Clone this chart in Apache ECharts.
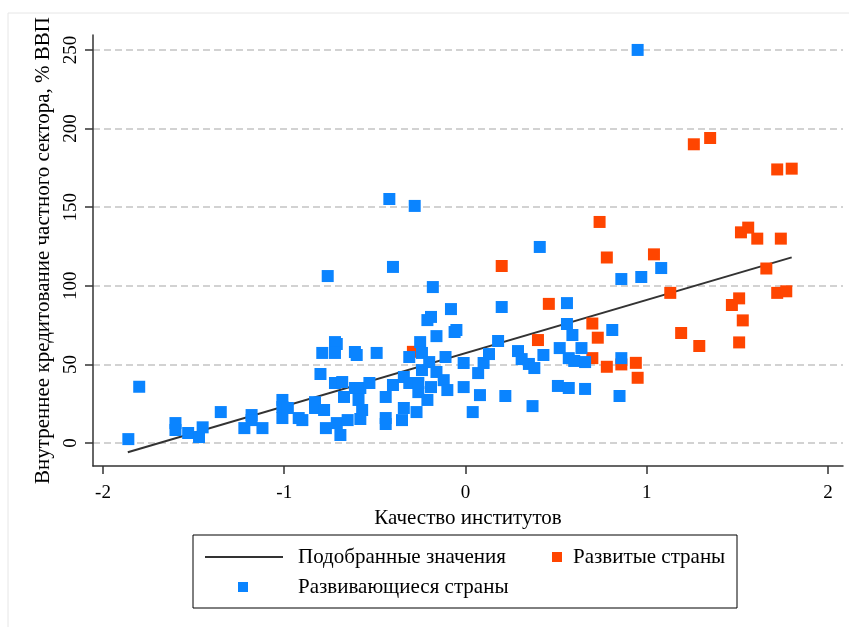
<!DOCTYPE html>
<html>
<head>
<meta charset="utf-8">
<script src="https://cdn.jsdelivr.net/npm/echarts@6/dist/echarts.min.js"></script>
<style>
  html, body { margin: 0; padding: 0; background: #fff; }
  #chart { width: 849px; height: 627px; }
</style>
</head>
<body>
<div id="chart"></div>
<script>
// Institutional quality (x) vs. domestic credit to the private sector, % of GDP (y)
const developed = [
  [-0.29, 58], [0.20, 112.6], [0.40, 65.5], [0.46, 88.5], [0.70, 76], [0.73, 67],
  [0.70, 54], [0.78, 48.5], [0.74, 140.6], [0.78, 118], [0.86, 50], [0.94, 51],
  [0.95, 41.5], [1.04, 120], [1.13, 95.5], [1.19, 70], [1.29, 61.7], [1.26, 190],
  [1.35, 194], [1.47, 87.8], [1.51, 92], [1.53, 78], [1.51, 64], [1.52, 134],
  [1.56, 137], [1.61, 130], [1.66, 111], [1.72, 95.5], [1.77, 96.5], [1.74, 130],
  [1.72, 174], [1.80, 174.5]
];

const developing = [
  [-1.86, 2.5], [-1.80, 35.8], [-1.60, 12.7], [-1.60, 8.3], [-1.53, 6.4], [-1.47, 3.8],
  [-1.45, 10], [-1.35, 19.7], [-1.22, 9.5], [-1.18, 17.8], [-1.18, 14.6], [-1.12, 9.5],
  [-1.01, 27.4], [-1.01, 22.9], [-1.01, 15.9], [-0.98, 22.3],
  [-0.92, 15.9], [-0.90, 14.6], [-0.83, 26], [-0.83, 22.3], [-0.78, 21], [-0.77, 9.5],
  [-0.79, 57.3], [-0.80, 43.9], [-0.72, 64.2], [-0.71, 63], [-0.72, 57.3], [-0.72, 38.2],
  [-0.68, 38.8], [-0.67, 29.3], [-0.71, 12.7], [-0.69, 5.1], [-0.65, 14.6], [-0.58, 15.3],
  [-0.61, 57.9], [-0.60, 56], [-0.61, 35], [-0.58, 35], [-0.59, 27.4], [-0.57, 21],
  [-0.53, 38.2], [-0.49, 57.3], [-0.44, 29.3], [-0.44, 15.9], [-0.44, 12.1],
  [-0.40, 36.9], [-0.34, 22.3], [-0.35, 14.6], [-0.34, 42], [-0.31, 54.7], [-0.31, 38.2],
  [-0.26, 38.2], [-0.27, 19.7], [-0.26, 32.4], [-0.25, 64.2], [-0.24, 57.3], [-0.24, 46.4],
  [-0.21, 78.2], [-0.19, 80.2], [-0.16, 68], [-0.20, 51.5], [-0.16, 45.2], [-0.19, 35.6],
  [-0.21, 27.4], [-0.12, 40], [-0.10, 33.7], [-0.11, 54.7], [-0.08, 85.2], [-0.06, 70.6],
  [-0.05, 71.9], [-0.01, 50.9], [-0.01, 35.6], [0.04, 19.7], [0.07, 44.5], [0.08, 30.5],
  [-0.42, 155.2], [-0.28, 150.8], [-0.76, 106.2], [-0.40, 112], [-0.18, 99.2],
  [0.10, 50.9], [0.13, 56.6], [0.18, 64.9], [0.20, 86.5], [0.22, 29.9], [0.29, 58.5],
  [0.31, 53.4], [0.35, 50.3], [0.38, 47.7], [0.37, 23.5], [0.43, 56], [0.41, 124.7],
  [0.51, 36.3], [0.52, 60.4], [0.56, 89], [0.56, 75.7], [0.57, 35], [0.57, 54],
  [0.59, 68.7], [0.60, 52.2], [0.64, 60.4], [0.66, 51.5], [0.66, 34.4], [0.81, 71.9],
  [0.86, 54], [0.85, 29.9], [0.86, 104.3], [0.97, 105.6], [1.08, 111.3], [0.95, 250]
];

// End points of the fitted regression line
const fitted = [[-1.863, -5.9], [1.80, 118.1]];

const xTicks = [-2, -1, 0, 1, 2];
const yTicks = [0, 50, 100, 150, 200, 250];

const names = {
  fitted: 'Подобранные значения',
  developed: 'Развитые страны',
  developing: 'Развивающиеся страны',
  xAxis: 'Качество институтов',
  yAxis: 'Внутреннее кредитование частного сектора, % ВВП'
};

const FONT = '"Liberation Serif", "DejaVu Serif", serif';
const BLUE = '#0a84ff';
const ORANGE = '#ff4500';
const TITLE_SIZE = 21;
const TICK_SIZE = 19;

const chart = echarts.init(document.getElementById('chart'), null, { renderer: 'canvas' });

chart.setOption({
  animation: false,
  backgroundColor: '#ffffff',
  textStyle: { fontFamily: FONT, color: '#000' },
  grid: { left: 93, right: 6, top: 35, bottom: 161, containLabel: false },
  xAxis: {
    type: 'value',
    min: -2.055,
    max: 2.083,
    name: names.xAxis,
    nameLocation: 'middle',
    nameGap: 33,
    nameTextStyle: { fontFamily: FONT, fontSize: TITLE_SIZE, color: '#000' },
    axisLine: { show: true, onZero: false, lineStyle: { color: '#333', width: 1.5 } },
    axisTick: { show: true, customValues: xTicks, length: 8, lineStyle: { color: '#333', width: 1.5 } },
    axisLabel: { customValues: xTicks, margin: 18, fontFamily: FONT, fontSize: TICK_SIZE, color: '#000' },
    splitLine: { show: false }
  },
  yAxis: {
    type: 'value',
    min: -14.6,
    max: 259.5,
    name: names.yAxis,
    nameLocation: 'middle',
    nameGap: 34,
    nameTextStyle: { fontFamily: FONT, fontSize: TITLE_SIZE, color: '#000' },
    axisLine: { show: true, onZero: false, lineStyle: { color: '#333', width: 1.5 } },
    axisTick: { show: true, customValues: yTicks, length: 8, lineStyle: { color: '#333', width: 1.5 } },
    axisLabel: { customValues: yTicks, rotate: 90, margin: 12, fontFamily: FONT, fontSize: TICK_SIZE, color: '#000' },
    splitLine: { show: true, lineStyle: { color: '#c4c4c4', width: 1.5, type: [7, 4] } }
  },
  series: [
    {
      name: names.fitted,
      type: 'line',
      data: fitted,
      symbol: 'none',
      lineStyle: { color: '#333', width: 2 },
      z: 2
    },
    {
      name: names.developed,
      type: 'scatter',
      data: developed,
      symbol: 'rect',
      symbolSize: 12,
      itemStyle: { color: ORANGE, opacity: 1 },
      z: 3
    },
    {
      name: names.developing,
      type: 'scatter',
      data: developing,
      symbol: 'rect',
      symbolSize: 12,
      itemStyle: { color: BLUE, opacity: 1 },
      z: 4
    }
  ],
  graphic: [
    // light outer frame of the graph region
    { type: 'rect', shape: { x: 8, y: 13, width: 860, height: 640 }, style: { fill: null, stroke: '#e6e6e6', lineWidth: 1 }, z: 0, silent: true },
    // legend box
    { type: 'rect', shape: { x: 193, y: 535, width: 544, height: 73 }, style: { fill: '#fff', stroke: '#000', lineWidth: 1 }, z: 10 },
    { type: 'line', shape: { x1: 205, y1: 557, x2: 283, y2: 557 }, style: { stroke: '#333', lineWidth: 2 }, z: 11 },
    { type: 'text', x: 298, y: 557, style: { text: names.fitted, font: TITLE_SIZE + 'px ' + FONT, fill: '#000', verticalAlign: 'middle', align: 'left' }, z: 11 },
    { type: 'rect', shape: { x: 552, y: 552, width: 10, height: 10 }, style: { fill: ORANGE }, z: 11 },
    { type: 'text', x: 573, y: 557, style: { text: names.developed, font: TITLE_SIZE + 'px ' + FONT, fill: '#000', verticalAlign: 'middle', align: 'left' }, z: 11 },
    { type: 'rect', shape: { x: 238, y: 582, width: 10, height: 10 }, style: { fill: BLUE }, z: 11 },
    { type: 'text', x: 298, y: 587, style: { text: names.developing, font: TITLE_SIZE + 'px ' + FONT, fill: '#000', verticalAlign: 'middle', align: 'left' }, z: 11 }
  ]
});
</script>
</body>
</html>
